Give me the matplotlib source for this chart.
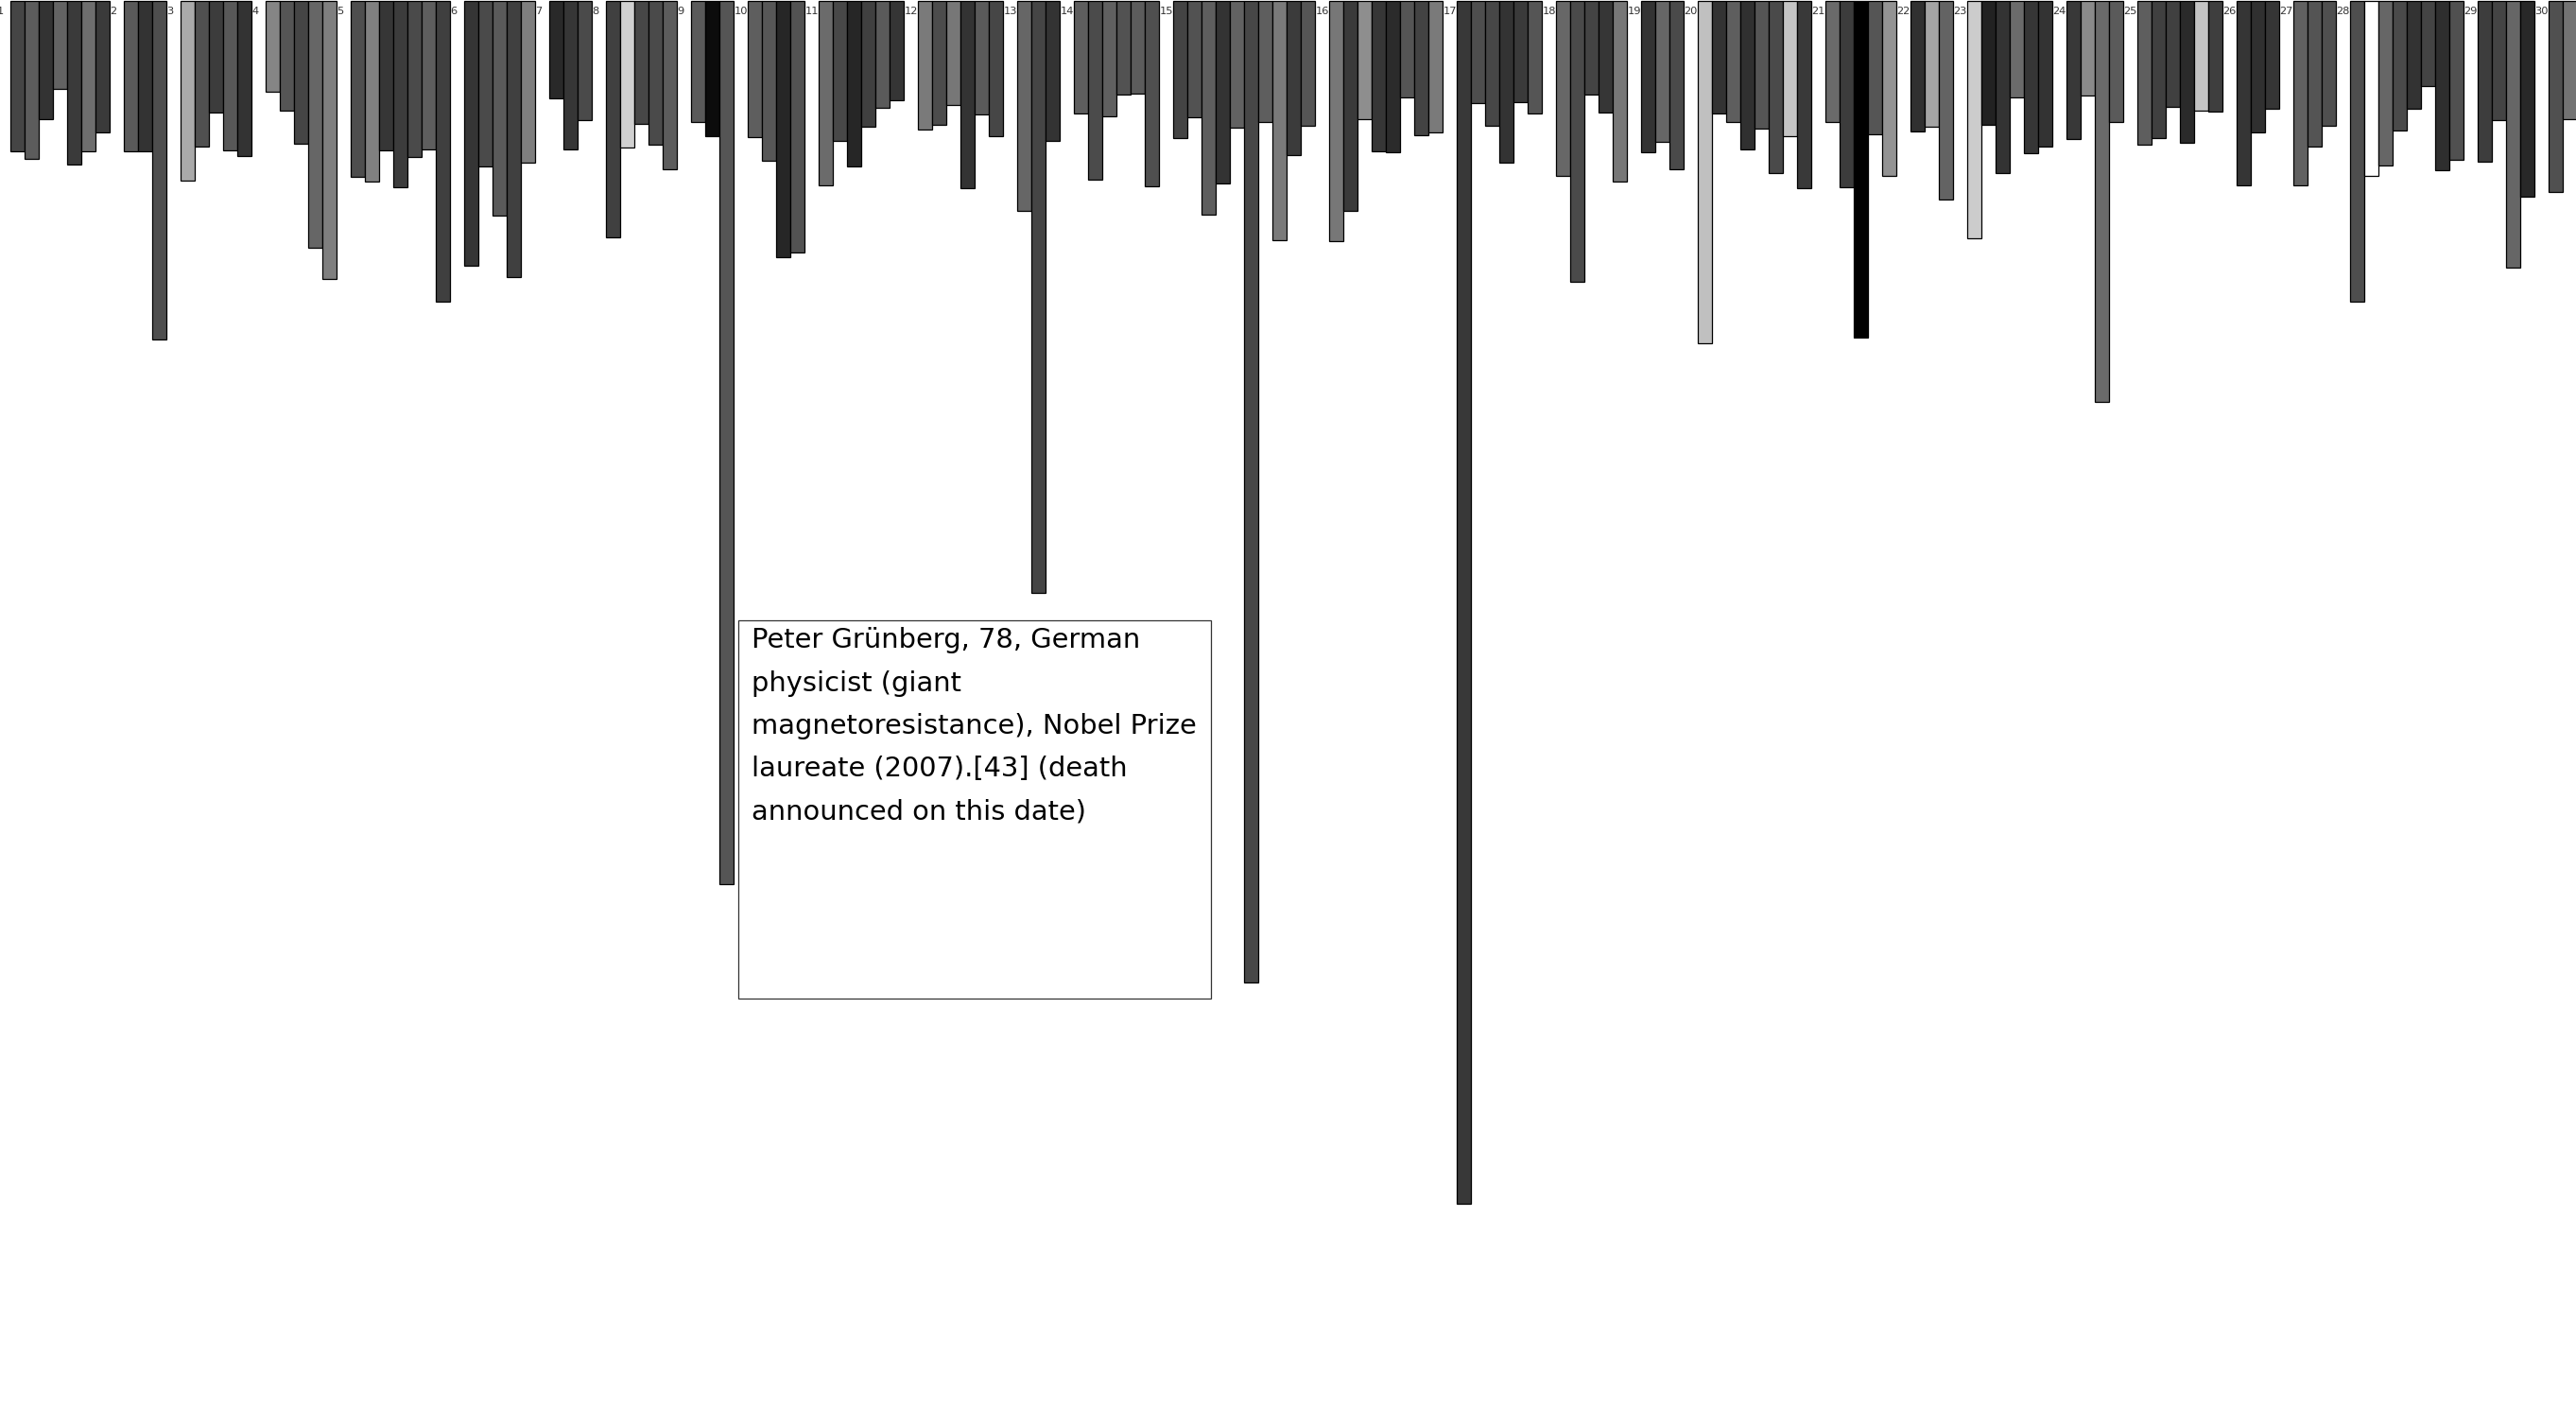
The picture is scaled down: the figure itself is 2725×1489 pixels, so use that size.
import matplotlib
matplotlib.use("Agg")
import matplotlib.pyplot as plt
from matplotlib.patches import Rectangle

# ---- data ----
days = list(range(1, 31))

heights = [
    [159, 167, 125, 93, 173, 159, 139],
    [159, 159, 359],
    [190, 154, 118, 158, 164],
    [96, 116, 151, 262, 295],
    [186, 191, 158, 197, 165, 157, 319],
    [281, 175, 227, 293, 171],
    [103, 157, 126],
    [251, 155, 130, 152, 178],
    [128, 143, 935],
    [144, 169, 272, 267],
    [195, 148, 175, 133, 113, 105],
    [136, 131, 110, 198, 120, 143],
    [222, 627, 148],
    [119, 189, 122, 99, 98, 196],
    [145, 123, 226, 193, 134, 1039, 128, 254, 163, 132],
    [255, 222, 125, 159, 160, 102, 142, 139],
    [1273, 108, 132, 171, 107, 119],
    [185, 298, 99, 118, 191],
    [160, 149, 178],
    [363, 119, 128, 157, 135, 182, 143, 198],
    [128, 197, 357, 141, 185],
    [138, 133, 210],
    [252, 131, 182, 102, 161, 154],
    [146, 100, 425, 128],
    [152, 145, 112, 150, 116, 117],
    [195, 139, 114],
    [195, 154, 132],
    [319, 185, 174, 137, 114, 90, 179, 168],
    [170, 126, 283, 207],
    [202, 125],
]

greys = [
    ["#454545", "#5c5c5c", "#333333", "#636363", "#3a3a3a", "#6e6e6e", "#3a3a3a"],
    ["#5a5a5a", "#333333", "#4e4e4e"],
    ["#aaaaaa", "#505050", "#3c3c3c", "#585858", "#333333"],
    ["#858585", "#555555", "#454545", "#666666", "#7f7f7f"],
    ["#4e4e4e", "#808080", "#363636", "#3c3c3c", "#4a4a4a", "#5e5e5e", "#3f3f3f"],
    ["#353535", "#4a4a4a", "#5a5a5a", "#404040", "#7e7e7e"],
    ["#292929", "#363636", "#4a4a4a"],
    ["#404040", "#d0d0d0", "#474747", "#4a4a4a", "#5c5c5c"],
    ["#5a5a5a", "#0c0c0c", "#555555"],
    ["#5e5e5e", "#575757", "#262626", "#525252"],
    ["#6b6b6b", "#484848", "#262626", "#404040", "#5a5a5a", "#353535"],
    ["#7a7a7a", "#4c4c4c", "#777777", "#333333", "#5a5a5a", "#464646"],
    ["#666666", "#454545", "#333333"],
    ["#5e5e5e", "#4b4b4b", "#606060", "#525252", "#5c5c5c", "#4f4f4f"],
    ["#444444", "#525252", "#5e5e5e", "#333333", "#626262", "#474747",
     "#5e5e5e", "#7a7a7a", "#3b3b3b", "#555555"],
    ["#777777", "#3a3a3a", "#8e8e8e", "#363636", "#2b2b2b", "#555555", "#434343", "#7a7a7a"],
    ["#383838", "#4e4e4e", "#474747", "#333333", "#3a3a3a", "#555555"],
    ["#676767", "#4a4a4a", "#444444", "#363636", "#777777"],
    ["#333333", "#666666", "#4a4a4a"],
    ["#c0c0c0", "#333333", "#5e5e5e", "#303030", "#555555", "#4a4a4a", "#c4c4c4", "#393939"],
    ["#6a6a6a", "#3c3c3c", "#000000", "#555555", "#939393"],
    ["#303030", "#a4a4a4", "#636363"],
    ["#cccccc", "#222222", "#333333", "#6b6b6b", "#363636", "#333333"],
    ["#383838", "#8a8a8a", "#6a6a6a", "#5a5a5a"],
    ["#5e5e5e", "#404040", "#404040", "#2a2a2a", "#c4c4c4", "#3e3e3e"],
    ["#353535", "#303030", "#353535"],
    ["#616161", "#545454", "#4f4f4f"],
    ["#4e4e4e", "#ffffff", "#666666", "#4a4a4a", "#333333", "#444444", "#2e2e2e", "#505050"],
    ["#3d3d3d", "#444444", "#666666", "#282828"],
    ["#505050", "#737373"],
]

note_day = 9
note_bar = 2
note_text = ("Peter Grünberg, 78, German\nphysicist (giant\n"
             "magnetoresistance), Nobel Prize\nlaureate (2007).[43] (death\n"
             "announced on this date)")

# ---- figure ----
W, H, DPI = 2725, 1489, 100
fig = plt.figure(figsize=(W / DPI, H / DPI), dpi=DPI)
ax = fig.add_axes([0, 0, 1, 1])
ax.set_axis_off()

SLOT_PX = 15.0
x0 = 3.7 / SLOT_PX
ax.set_xlim(x0, x0 + W / SLOT_PX)
ax.set_ylim(H, -0.6)

slot = 0
note_x = None
for d, hs, cs in zip(days, heights, greys):
    ax.text(slot, 6.2, str(d), ha="left", va="top", fontsize=8.2,
            color="#333333", family="DejaVu Sans")
    xs = [slot + 1 + i for i in range(len(hs))]
    ax.bar(xs, hs, width=1.0, align="edge", bottom=0, color=cs,
           edgecolor="black", linewidth=0.9)
    if d == note_day:
        note_x = xs[note_bar] + 1
    slot += 1 + len(hs)

# annotation box
bx = note_x + 4.4 / SLOT_PX
ax.add_patch(Rectangle((bx, 656), 500 / SLOT_PX, 400, facecolor="white",
                       edgecolor="#333333", linewidth=0.9, zorder=5))
ax.text(bx + 14 / SLOT_PX, 663, note_text, ha="left", va="top",
        fontsize=20.8, linespacing=1.785, color="black",
        family="DejaVu Sans", zorder=6)

fig.savefig("out.png", dpi=DPI)
